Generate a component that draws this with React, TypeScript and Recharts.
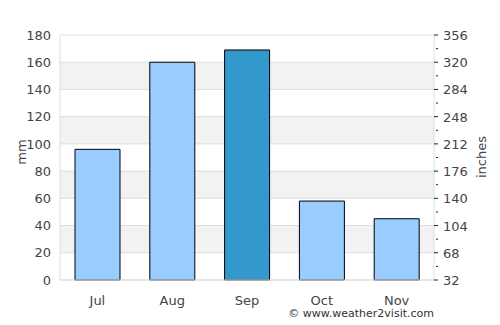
import React from 'react';
import { BarChart, Bar, XAxis, YAxis, CartesianGrid, Cell } from 'recharts';

const months = ['Jul', 'Aug', 'Sep', 'Oct', 'Nov'];
const rainfallMm = [96, 160, 169, 58, 45];
const highlightMonth = 'Sep';
const mmTicks = [0, 20, 40, 60, 80, 100, 120, 140, 160, 180];
// right axis is labelled "inches" but the values follow 1.8x + 32
const rightTicks = [32, 50, 68, 86, 104, 122, 140, 158, 176, 194, 212, 230, 248, 266, 284, 302, 320, 338, 356];
const rightLabelled = [32, 68, 104, 140, 176, 212, 248, 284, 320, 356];

const data = months.map((m, i) => ({ month: m, mm: rainfallMm[i] }));

const FONT = '"DejaVu Sans", sans-serif';
const TEXT = '#444';

const RightTick = (props: any) => {
  const { x, y, payload } = props;
  const major = rightLabelled.includes(payload.value);
  const axisX = x - 9;
  return (
    <g>
      <line x1={axisX + (major ? 0 : 2)} x2={axisX + 4} y1={y} y2={y} stroke="#222" strokeWidth={1} />
      {major && (
        <text x={x} y={y} dy={5} fontSize={13} fill={TEXT} fontFamily={FONT} textAnchor="start">
          {payload.value}
        </text>
      )}
    </g>
  );
};

export default function App() {
  return (
    <div style={{ position: 'absolute', left: 0, top: 0, width: 500, height: 325, background: '#fff' }}>
      <BarChart width={500} height={325} data={data} margin={{ top: 35, right: 0, bottom: 15, left: 0 }}>
        <CartesianGrid
          vertical={false}
          stroke="#dddddd"
          horizontalFill={['#ffffff', '#f2f2f2']}
          fillOpacity={1}
          yAxisId="mm"
        />
        <XAxis
          dataKey="month"
          height={30}
          tickLine={false}
          axisLine={{ stroke: '#dddddd' }}
          tickMargin={10}
          tick={{ fontSize: 13, fill: TEXT, fontFamily: FONT }}
        />
        <YAxis
          yAxisId="mm"
          width={60}
          domain={[0, 180]}
          ticks={mmTicks}
          tickLine={false}
          tickSize={0}
          tickMargin={9}
          axisLine={{ stroke: '#dddddd' }}
          tick={{ fontSize: 13, fill: TEXT, fontFamily: FONT }}
          interval={0}
        />
        <YAxis
          yAxisId="in"
          orientation="right"
          type="number"
          width={66}
          domain={[32, 356]}
          allowDataOverflow
          ticks={rightTicks}
          interval={0}
          tickLine={false}
          tickSize={0}
          tickMargin={9}
          axisLine={{ stroke: '#dddddd' }}
          tick={RightTick}
        />
        <Bar yAxisId="mm" dataKey="mm" barSize={45} stroke="#000" strokeWidth={1} isAnimationActive={false}>
          {data.map((d) => (
            <Cell key={d.month} fill={d.month === highlightMonth ? '#3399cc' : '#99ccff'} />
          ))}
        </Bar>
      </BarChart>
      <svg width={500} height={325} style={{ position: 'absolute', left: 0, top: 0, pointerEvents: 'none' }}>
        <text x={21} y={152} transform="rotate(-90 21 152)" textAnchor="middle" dominantBaseline="central" fontSize={13} fill={TEXT} fontFamily={FONT}>
          mm
        </text>
        <text x={481} y={157} transform="rotate(-90 481 157)" textAnchor="middle" dominantBaseline="central" fontSize={13} fill={TEXT} fontFamily={FONT}>
          inches
        </text>
        <text x={434} y={317} textAnchor="end" fontSize={11} fill="#333" fontFamily={FONT}>
          © www.weather2visit.com
        </text>
      </svg>
    </div>
  );
}
